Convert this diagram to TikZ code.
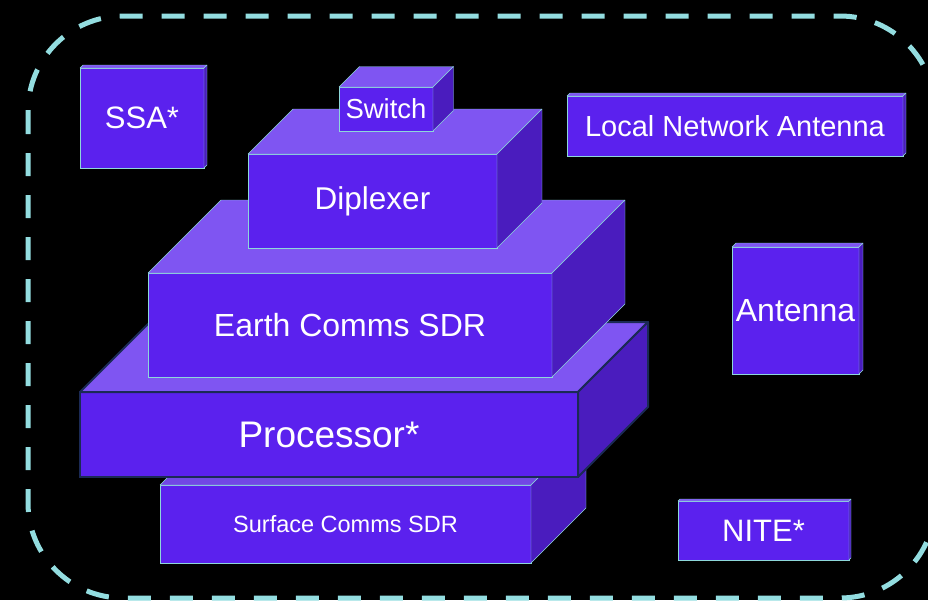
\documentclass[tikz,border=0pt]{standalone}
\usepackage{fontspec}
\setmainfont{Liberation Sans}
\definecolor{frontc}{HTML}{5B21EE}
\definecolor{topc}{HTML}{7F55F2}
\definecolor{sidec}{HTML}{4A1CBE}
\definecolor{edgec}{HTML}{8ED8DA}
\definecolor{procedge}{HTML}{1B2A55}
\definecolor{borderc}{HTML}{93DDE0}

% top and right faces of a box whose front face is the node #2,
% pushed back by #3 (right and up), edges in colour #4, top fill #1
\newcommand\boxfaces[4][topc]{%
  \filldraw[fill=#1,draw=#4,line join=round]
    (#2.north west) -- ([shift={(#3,-#3)}]#2.north west)
    -- ([shift={(#3,-#3)}]#2.north east) -- (#2.north east) -- cycle;
  \filldraw[fill=sidec,draw=#4,line join=round]
    (#2.north east) -- ([shift={(#3,-#3)}]#2.north east)
    -- ([shift={(#3,-#3)}]#2.south east) -- (#2.south east) -- cycle;}

\tikzset{
  face/.style={fill=frontc, draw=edgec, line width=0.9, text=white,
    inner sep=0pt, outer sep=0pt, align=center},
  fs/.style={font=\fontsize{#1}{#1}\selectfont},
  border/.style={draw=borderc, line width=5, dash pattern=on 23 off 19,
    rounded corners=95},
}

\begin{document}
\begin{tikzpicture}[x=1pt,y=-1pt]
  \fill[black] (0,0) rectangle (928,600);
  \useasboundingbox (0,0) rectangle (928,600);

  % enclosing dashed outline
  \draw[border] (28,16) rectangle (935,598);

  % stand-alone units
  \node[face, fs=31, minimum width=124, minimum height=100] (ssa) at (142,118) {SSA*};
  \boxfaces{ssa}{3}{edgec}
  \node[face, fs=29, minimum width=336, minimum height=60] (lna) at (735,126) {Local Network Antenna};
  \boxfaces{lna}{3}{edgec}
  \node[face, fs=32, minimum width=127, minimum height=127] (ant) at (795.5,310.5) {Antenna};
  \boxfaces{ant}{4}{edgec}
  \node[face, fs=31, minimum width=171, minimum height=59] (nite) at (763.5,530.5) {NITE*};
  \boxfaces{nite}{2}{edgec}

  % the stack, back to front
  \node[face, fs=23.5, minimum width=371, minimum height=78] (surf) at (345.5,524) {Surface Comms SDR};
  \boxfaces[topc!75!sidec]{surf}{55}{edgec}

  \node[face, fs=37, draw=procedge, line width=2, minimum width=498, minimum height=85] (proc) at (329,434.5) {Processor*};
  {\tikzset{every path/.style={line width=2}}\boxfaces{proc}{70}{procedge}}

  \node[face, fs=32, minimum width=404, minimum height=104] (earth) at (350,325) {Earth Comms SDR};
  \boxfaces{earth}{73}{edgec}

  \node[face, fs=31.5, minimum width=249, minimum height=94] (dip) at (372.5,201) {Diplexer};
  \boxfaces{dip}{45}{edgec}

  \node[face, fs=27.5, minimum width=94, minimum height=44] (sw) at (386,109) {Switch};
  \boxfaces{sw}{20.5}{edgec}
\end{tikzpicture}
\end{document}
